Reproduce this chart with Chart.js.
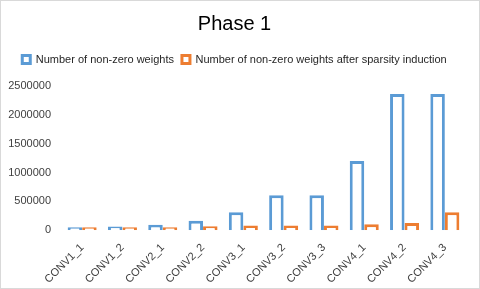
<!DOCTYPE html>
<html>
<head>
<meta charset="utf-8">
<script src="https://cdn.jsdelivr.net/npm/chart.js@4.4.1/dist/chart.umd.min.js"></script>
<style>
  html, body { margin: 0; padding: 0; background: #fff; }
  #wrap { width: 480px; height: 289px; }
</style>
</head>
<body>
<div id="wrap"><canvas id="chart" width="480" height="289"></canvas></div>
<script>
// layer names
var layers = ['CONV1_1', 'CONV1_2', 'CONV2_1', 'CONV2_2', 'CONV3_1', 'CONV3_2', 'CONV3_3', 'CONV4_1', 'CONV4_2', 'CONV4_3'];
// non-zero weights
var nonZero = [50000, 65000, 95000, 165000, 310000, 605000, 605000, 1200000, 2360000, 2360000];
// non-zero weights after sparsity induction
var afterSparsity = [50000, 50000, 50000, 70000, 80000, 80000, 80000, 105000, 125000, 310000];
var yTicks = [0, 500000, 1000000, 1500000, 2000000, 2500000];

var fontFam = "'Liberation Sans', Arial, sans-serif";

/* ======= grey frame round the chart ======= */
var framePlugin = {
    id: 'frame',
    afterDraw: function (chart) {
        var c = chart.ctx;
        c.save();
        c.strokeStyle = '#d9d9d9';
        c.lineWidth = 1;
        c.strokeRect(0.5, 0.5, chart.width - 1, chart.height - 1);
        c.restore();
    }
};

/* ======= extra room under the legend ======= */
var legendGap = {
    id: 'legendGap',
    beforeInit: function (chart) {
        var fit = chart.legend.fit;
        chart.legend.fit = function () {
            fit.bind(chart.legend)();
            this.height += 11;
        };
    }
};

var ctx = document.getElementById('chart');
var chart = new Chart(ctx, {
    type: 'bar',
    data: {
        labels: layers,
        datasets: [{
            label: 'Number of non-zero weights',
            data: nonZero,
            backgroundColor: '#ffffff',
            borderColor: '#5b9bd5',
            borderWidth: 3
        }, {
            label: 'Number of non-zero weights after sparsity induction',
            data: afterSparsity,
            backgroundColor: '#ffffff',
            borderColor: '#ed7d31',
            borderWidth: 3
        }]
    },
    options: {
        responsive: false,
        animation: false,
        layout: { padding: { left: 4, right: 15, top: 8, bottom: 0 } },
        datasets: { bar: { categoryPercentage: 0.72, barPercentage: 1.0 } },
        plugins: {
            title: {
                display: true,
                text: 'Phase 1',
                color: '#000000',
                font: { family: fontFam, size: 20, weight: 'normal' },
                padding: { top: 4, bottom: 10 }
            },
            legend: {
                display: true,
                labels: {
                    color: '#262626',
                    font: { family: fontFam, size: 11 },
                    boxWidth: 8,
                    boxHeight: 8,
                    padding: 8
                }
            },
            tooltip: { enabled: false }
        },
        scales: {
            x: {
                grid: { display: false },
                border: { display: false },
                ticks: {
                    color: '#404040',
                    font: { family: fontFam, size: 11 },
                    minRotation: 45,
                    maxRotation: 45,
                    autoSkip: false
                }
            },
            y: {
                min: 0,
                max: yTicks[yTicks.length - 1],
                grid: { display: false },
                border: { display: false },
                afterBuildTicks: function (scale) {
                    scale.ticks = yTicks.map(function (v) { return { value: v }; });
                },
                afterFit: function (scale) { scale.width = 58; },
                ticks: {
                    color: '#404040',
                    font: { family: fontFam, size: 11 },
                    callback: function (v) { return String(v); }
                }
            }
        }
    },
    plugins: [framePlugin, legendGap]
});
</script>
</body>
</html>
